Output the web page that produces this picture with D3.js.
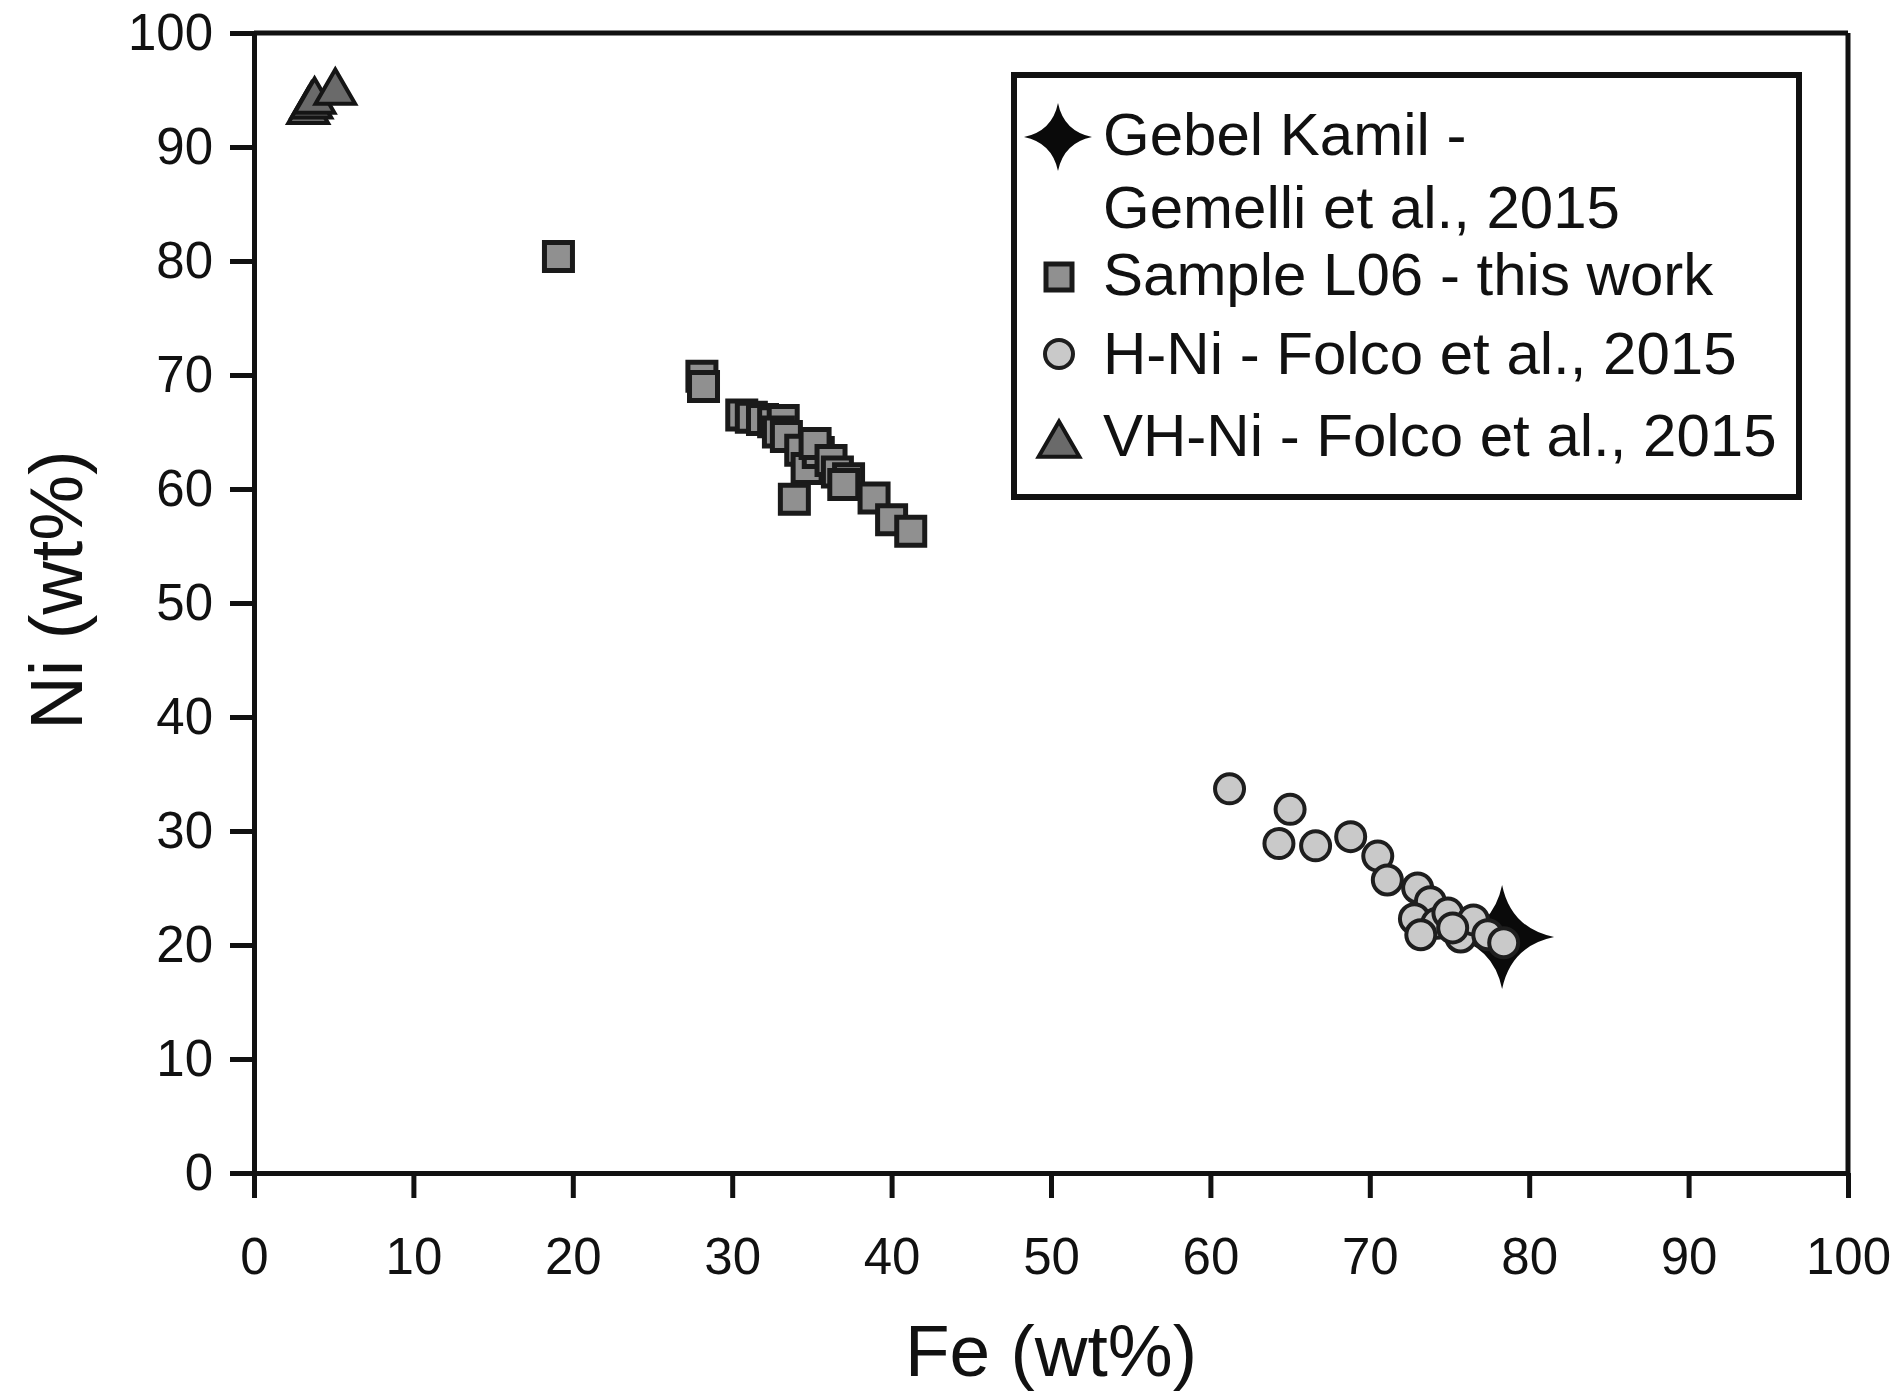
<!DOCTYPE html>
<html>
<head>
<meta charset="utf-8">
<script src="https://cdn.jsdelivr.net/npm/d3@7"></script>
<style>
  body { margin: 0; background: #fff; }
  text { font-family: "Liberation Sans", Arial, sans-serif; fill: #111; }
</style>
</head>
<body>
<svg id="chart"></svg>
<script>
// data (Fe wt%, Ni wt%)
var starFe = [78.3];
var starNi = [20.7];

var squareFe = [19.1, 28.1, 28.2, 30.6, 31.2, 31.9, 32.6, 33.2, 32.9, 33.4, 34.3, 34.7, 35.4, 35.2, 36.2, 36.6, 37.3, 37.0, 33.9, 38.9, 40.0, 41.2];
var squareNi = [80.4, 69.9, 69.0, 66.5, 66.3, 66.1, 65.9, 66.0, 65.0, 64.6, 63.4, 61.8, 63.2, 64.0, 62.5, 61.5, 60.9, 60.4, 59.1, 59.2, 57.3, 56.3];

var circleFe = [61.2, 65.0, 64.3, 66.6, 68.8, 70.5, 71.1, 73.0, 73.8, 72.8, 74.2, 74.9, 73.2, 75.7, 76.5, 77.4, 75.2, 78.4];
var circleNi = [33.7, 31.9, 28.9, 28.7, 29.5, 27.8, 25.7, 25.0, 23.8, 22.3, 21.9, 22.8, 20.9, 20.7, 22.2, 20.9, 21.5, 20.2];

var triFe = [3.4, 3.6, 3.8, 5.1];
var triNi = [93.1, 93.6, 94.0, 94.8];

var xTicks = [0, 10, 20, 30, 40, 50, 60, 70, 80, 90, 100];
var yTicks = [0, 10, 20, 30, 40, 50, 60, 70, 80, 90, 100];

var legendLabels = [["Gebel Kamil -", "Gemelli et al., 2015"], ["Sample L06 - this work"], ["H-Ni - Folco et al., 2015"], ["VH-Ni - Folco et al., 2015"]];

var W = 1902, H = 1397;
var pLeft = 254, pTop = 33, pRight = 1848, pBottom = 1173;

var svg = d3.select("#chart").attr("width", W).attr("height", H);

var x = d3.scaleLinear().domain([0, 100]).range([pLeft, pRight]);
var y = d3.scaleLinear().domain([0, 100]).range([pBottom, pTop]);

// frame top + right
svg.append("line").attr("x1", pLeft).attr("x2", pRight).attr("y1", pTop).attr("y2", pTop)
  .attr("stroke", "#111").attr("stroke-width", 5);
svg.append("line").attr("x1", pRight).attr("x2", pRight).attr("y1", pTop).attr("y2", pBottom)
  .attr("stroke", "#111").attr("stroke-width", 5);

var xAxis = svg.append("g").attr("transform", "translate(0," + pBottom + ")")
  .call(d3.axisBottom(x).tickValues(xTicks).tickSize(25).tickSizeOuter(0).tickPadding(40));
var yAxis = svg.append("g").attr("transform", "translate(" + pLeft + ",0)")
  .call(d3.axisLeft(y).tickValues(yTicks).tickSize(24).tickSizeOuter(0).tickPadding(17));

[xAxis, yAxis].forEach(function(a) {
  a.selectAll("path.domain").attr("stroke", "#111").attr("stroke-width", 5);
  a.selectAll(".tick line").attr("stroke", "#111").attr("stroke-width", 5);
  a.selectAll(".tick text").attr("font-size", 51).attr("fill", "#111")
    .style("font-family", "'Liberation Sans', Arial, sans-serif");
});

svg.append("text").attr("x", (pLeft + pRight) / 2).attr("y", 1376)
  .attr("text-anchor", "middle").attr("font-size", 73).text("Fe (wt%)");
svg.append("text").attr("transform", "translate(82," + 590 + ") rotate(-90)")
  .attr("text-anchor", "middle").attr("font-size", 74).text("Ni (wt%)");

function starPath(R) {
  var c = R * 0.17;
  return "M0," + (-R) + "Q" + c + "," + (-c) + " " + R + ",0" +
    "Q" + c + "," + c + " 0," + R +
    "Q" + (-c) + "," + c + " " + (-R) + ",0" +
    "Q" + (-c) + "," + (-c) + " 0," + (-R) + "Z";
}

var sqSym = d3.symbol().type(d3.symbolSquare).size(28 * 28);
var triSym = d3.symbol().type(d3.symbolTriangle).size(680);

// star (drawn first, under the circles)
svg.append("g").selectAll("path").data(d3.range(starFe.length)).join("path")
  .attr("transform", function(i) { return "translate(" + x(starFe[i]) + "," + y(starNi[i]) + ")"; })
  .attr("d", starPath(52)).attr("fill", "#0a0a0a");

svg.append("g").selectAll("path").data(d3.range(squareFe.length)).join("path")
  .attr("transform", function(i) { return "translate(" + x(squareFe[i]) + "," + y(squareNi[i]) + ")"; })
  .attr("d", sqSym()).attr("fill", "#909090").attr("stroke", "#1a1a1a").attr("stroke-width", 5);

svg.append("g").selectAll("circle").data(d3.range(circleFe.length)).join("circle")
  .attr("cx", function(i) { return x(circleFe[i]); })
  .attr("cy", function(i) { return y(circleNi[i]); })
  .attr("r", 14.5).attr("fill", "#c9c9c9").attr("stroke", "#1e1e1e").attr("stroke-width", 4);

svg.append("g").selectAll("path").data(d3.range(triFe.length)).join("path")
  .attr("transform", function(i) { return "translate(" + x(triFe[i]) + "," + y(triNi[i]) + ")"; })
  .attr("d", triSym()).attr("fill", "#6a6a6a").attr("stroke", "#151515").attr("stroke-width", 4);

// legend
var lg = svg.append("g");
lg.append("rect").attr("x", 1014).attr("y", 75).attr("width", 785).attr("height", 422)
  .attr("fill", "#fff").attr("stroke", "#111").attr("stroke-width", 6);

var legendY = [[155, 228], [295], [374], [456]];
var markerY = [137, 277, 354, 445];
lg.append("path").attr("transform", "translate(1058," + markerY[0] + ")").attr("d", starPath(34)).attr("fill", "#0a0a0a");
lg.append("path").attr("transform", "translate(1059," + markerY[1] + ")")
  .attr("d", d3.symbol().type(d3.symbolSquare).size(26 * 26)()).attr("fill", "#909090").attr("stroke", "#1a1a1a").attr("stroke-width", 5);
lg.append("circle").attr("cx", 1059).attr("cy", markerY[2]).attr("r", 14)
  .attr("fill", "#c9c9c9").attr("stroke", "#1e1e1e").attr("stroke-width", 4);
lg.append("path").attr("transform", "translate(1059," + markerY[3] + ")")
  .attr("d", d3.symbol().type(d3.symbolTriangle).size(720)()).attr("fill", "#6a6a6a").attr("stroke", "#151515").attr("stroke-width", 4);

legendLabels.forEach(function(lines, i) {
  lines.forEach(function(t, j) {
    lg.append("text").attr("x", 1103).attr("y", legendY[i][j]).attr("font-size", 60).text(t);
  });
});
</script>
</body>
</html>
